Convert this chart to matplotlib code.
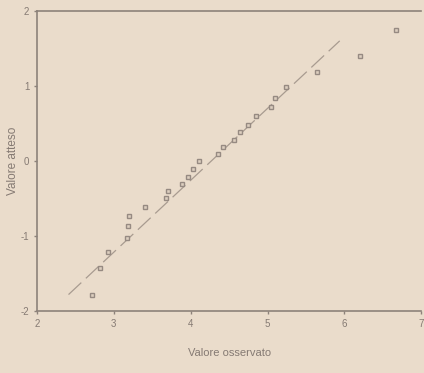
import numpy as np
import matplotlib.pyplot as plt

# valori osservati e valori attesi (Q-Q plot)
osservato = [2.72, 2.82, 2.92, 3.17, 3.18, 3.20, 3.40, 3.68, 3.71, 3.89,
             3.96, 4.03, 4.11, 4.35, 4.42, 4.57, 4.64, 4.74, 4.85, 5.05,
             5.10, 5.24, 5.64, 6.21, 6.67]
atteso = [-1.78, -1.43, -1.21, -1.02, -0.87, -0.73, -0.62, -0.50, -0.40, -0.31,
          -0.21, -0.11, 0.00, 0.09, 0.18, 0.28, 0.38, 0.48, 0.60, 0.72,
          0.84, 0.99, 1.18, 1.40, 1.75]

# retta di riferimento
retta_x = [2.41, 5.94]
retta_y = [-1.78, 1.60]

x_ticks = [2, 3, 4, 5, 6, 7]
y_ticks = [-2, -1, 0, 1, 2]

bg = "#eadccb"
grigio = "#8d827a"

plt.rcParams['font.family'] = ['Liberation Sans', 'DejaVu Sans']
plt.rcParams['axes.unicode_minus'] = False

fig = plt.figure(figsize=(4.24, 3.73), dpi=100, facecolor=bg)
ax = fig.add_axes([0.0873, 0.166, 0.906, 0.805], facecolor=bg)

ax.plot(retta_x, retta_y, color="#a89b90", lw=0.9, dashes=(14, 5))
ax.plot(osservato, atteso, "s", ms=3.2, mfc="#ddcfbf", mec="#968a82", mew=1.0)

ax.set_xlim(2, 7)
ax.set_ylim(-2, 2)
ax.set_xticks(x_ticks)
ax.set_yticks(y_ticks)

for s in ax.spines.values():
    s.set_color(grigio)
    s.set_linewidth(1.2)
ax.spines["right"].set_visible(False)

ax.tick_params(direction="out", length=2.5, width=1, colors=grigio,
               labelsize=7, labelcolor="#857a73", pad=3)

ax.set_xlabel("Valore osservato", fontsize=8, color="#857a73", labelpad=14)
ax.set_ylabel("Valore atteso", fontsize=8.5, color="#857a73", labelpad=1)

fig.savefig("out.png", dpi=100, facecolor=bg)
